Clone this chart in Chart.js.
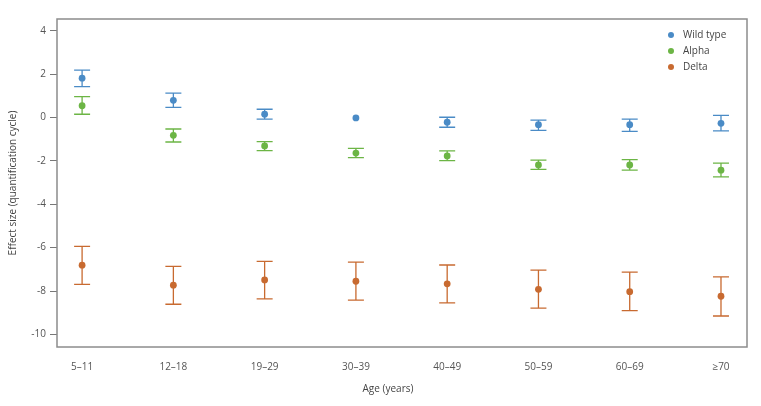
<!DOCTYPE html>
<html>
<head>
<meta charset="utf-8">
<script src="https://cdn.jsdelivr.net/npm/chart.js@4"></script>
<style>
  html, body { margin: 0; padding: 0; background: #fff; }
  #wrap { width: 761px; height: 406px; }
</style>
</head>
<body>
<div id="wrap"><canvas id="grafico" width="761" height="406"></canvas></div>
<script>
const ageGroups = ['5–11', '12–18', '19–29', '30–39', '40–49', '50–59', '60–69', '≥70'];
const yTicks = [4, 2, 0, -2, -4, -6, -8, -10];

const wildType   = [1.81, 0.79, 0.15, -0.02, -0.22, -0.33, -0.33, -0.27];
const wildTypeLo = [1.42, 0.47, -0.08, null, -0.45, -0.59, -0.64, -0.62];
const wildTypeHi = [2.18, 1.12, 0.38, null, 0.01, -0.12, -0.08, 0.10];

const alpha   = [0.54, -0.82, -1.31, -1.64, -1.77, -2.19, -2.19, -2.43];
const alphaLo = [0.15, -1.13, -1.53, -1.85, -1.99, -2.39, -2.43, -2.74];
const alphaHi = [0.96, -0.53, -1.11, -1.42, -1.54, -1.97, -1.94, -2.10];

const delta   = [-6.81, -7.73, -7.49, -7.55, -7.67, -7.92, -8.03, -8.24];
const deltaLo = [-7.69, -8.61, -8.36, -8.42, -8.55, -8.79, -8.90, -9.15];
const deltaHi = [-5.94, -6.86, -6.63, -6.67, -6.80, -7.04, -7.13, -7.35];

const cores = { wild: '#4a8bc6', alpha: '#6cb545', delta: '#c86a30' };
const fonte = "'Open Sans', 'DejaVu Sans', sans-serif";

function pontos(valores) {
  return valores.map((v, i) => ({ x: i, y: v }));
}

function serie(label, valores, lo, hi, cor) {
  return {
    label: label,
    data: pontos(valores),
    lo: lo,
    hi: hi,
    backgroundColor: cor,
    borderColor: cor,
    pointRadius: 3.4,
    pointHoverRadius: 3.4,
    pointBorderWidth: 0
  };
}

// barras de erro desenhadas com as escalas do grafico
const barrasErro = {
  id: 'barrasErro',
  beforeDatasetsDraw(chart) {
    const ctx = chart.ctx;
    const xs = chart.scales.x, ys = chart.scales.y;
    chart.data.datasets.forEach(ds => {
      ctx.save();
      ctx.strokeStyle = ds.borderColor;
      ctx.lineWidth = 1.3;
      ds.data.forEach((p, i) => {
        if (ds.lo[i] == null || ds.hi[i] == null) return;
        const x = xs.getPixelForValue(p.x);
        const y1 = ys.getPixelForValue(ds.lo[i]);
        const y2 = ys.getPixelForValue(ds.hi[i]);
        const w = 8;
        ctx.beginPath();
        ctx.moveTo(x, y1); ctx.lineTo(x, y2);
        ctx.moveTo(x - w, y1); ctx.lineTo(x + w, y1);
        ctx.moveTo(x - w, y2); ctx.lineTo(x + w, y2);
        ctx.stroke();
      });
      ctx.restore();
    });
  },
  afterDraw(chart) {
    const ctx = chart.ctx;
    const a = chart.chartArea;
    ctx.save();
    ctx.strokeStyle = '#8c8c8c';
    ctx.lineWidth = 1.5;
    ctx.strokeRect(a.left, a.top, a.right - a.left, a.bottom - a.top);

    // titulo do eixo x, centrado na pagina como no original
    ctx.font = '10px ' + fonte;
    ctx.fillStyle = '#444';
    ctx.textAlign = 'center';
    ctx.textBaseline = 'middle';
    ctx.fillText('Age (years)', 388, a.bottom + 42);

    // legenda no canto superior direito
    ctx.textAlign = 'left';
    chart.data.datasets.forEach((ds, i) => {
      const y = a.top + 16 + i * 16;
      const x = a.right - 76;
      ctx.beginPath();
      ctx.fillStyle = ds.backgroundColor;
      ctx.arc(x, y, 3, 0, Math.PI * 2);
      ctx.fill();
      ctx.fillStyle = '#444';
      ctx.fillText(ds.label, x + 12, y);
    });
    ctx.restore();
  }
};

const ctx = document.getElementById('grafico').getContext('2d');

const grafico = new Chart(ctx, {
  type: 'scatter',
  data: {
    datasets: [
      serie('Wild type', wildType, wildTypeLo, wildTypeHi, cores.wild),
      serie('Alpha', alpha, alphaLo, alphaHi, cores.alpha),
      serie('Delta', delta, deltaLo, deltaHi, cores.delta)
    ]
  },
  options: {
    animation: false,
    responsive: false,
    layout: { padding: { top: 19, right: 14, left: 0, bottom: 0 } },
    scales: {
      x: {
        type: 'linear',
        min: -0.275,
        max: 7.285,
        afterBuildTicks: axis => { axis.ticks = ageGroups.map((_, i) => ({ value: i })); },
        afterFit: axis => { axis.height = 59; },
        grid: { display: false },
        border: { display: false },
        ticks: {
          callback: v => ageGroups[v],
          color: '#555',
          font: { family: fonte, size: 10 },
          padding: 6,
          maxRotation: 0
        }
      },
      y: {
        min: -10.58,
        max: 4.54,
        afterBuildTicks: axis => { axis.ticks = yTicks.map(v => ({ value: v })); },
        afterFit: axis => { axis.width = 57; },
        grid: {
          display: true,
          drawOnChartArea: false,
          drawTicks: true,
          tickLength: 7,
          color: '#777'
        },
        border: { display: false },
        ticks: {
          color: '#555',
          font: { family: fonte, size: 10 },
          padding: 4
        },
        title: {
          display: true,
          text: 'Effect size (quantification cycle)',
          color: '#444',
          font: { family: fonte, size: 10 },
          padding: { top: 7, bottom: 4 }
        }
      }
    },
    plugins: {
      legend: { display: false },
      tooltip: { enabled: false }
    }
  },
  plugins: [barrasErro]
});
</script>
</body>
</html>
